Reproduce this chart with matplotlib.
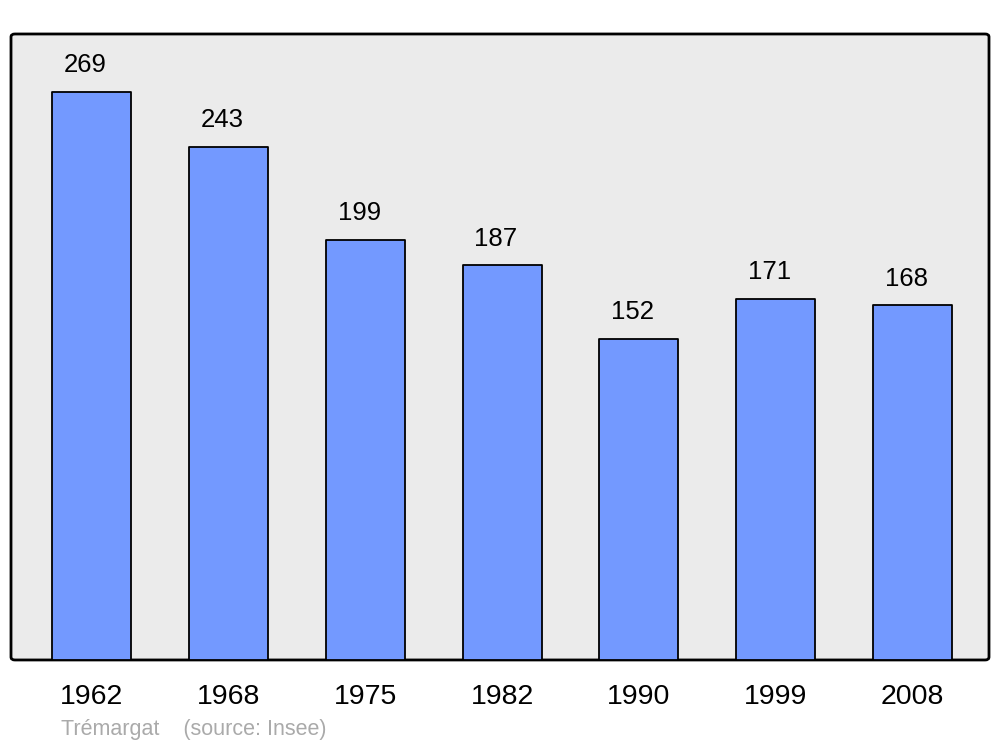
import matplotlib
matplotlib.use("Agg")
import matplotlib.pyplot as plt
from matplotlib.patches import FancyBboxPatch

years = ["1962", "1968", "1975", "1982", "1990", "1999", "2008"]
population = [269, 243, 199, 187, 152, 171, 168]
caption = "Trémargat    (source: Insee)"

BG = "#EBEBEB"
BAR = "#7399FF"

plt.rcParams["font.family"] = ["Liberation Sans", "DejaVu Sans"]

fig = plt.figure(figsize=(10, 7.47), dpi=100)
ax = fig.add_axes([0.011, 0.1165, 0.978, 0.838])
ax.set_facecolor("none")
for s in ax.spines.values():
    s.set_visible(False)

# rounded frame behind everything
frame = FancyBboxPatch((0, 0), 1, 1, boxstyle="round,pad=0,rounding_size=0.004",
                       transform=ax.transAxes, facecolor=BG, edgecolor="black",
                       linewidth=2, zorder=0, clip_on=False, mutation_aspect=1.17)
ax.add_patch(frame)

x = range(len(years))
bars = ax.bar(x, population, width=0.577, color=BAR, edgecolor="black",
              linewidth=1.3, zorder=2)
for b in bars:
    b.set_joinstyle("round")

for i, v in enumerate(population):
    ax.text(i - 0.045, v + 7, str(v), ha="center", va="bottom", fontsize=18.5, zorder=3)

ax.set_xlim(-0.59, 6.56)
ax.set_ylim(0, 296.6)
ax.set_yticks([])
ax.set_xticks(list(x))
ax.set_xticklabels(years, fontsize=20.5)
ax.tick_params(axis="x", length=0, pad=17)

fig.text(0.061, 0.0228, caption, fontsize=15.5, color="#AAAAAA", ha="left", va="center")

fig.savefig("out.png", dpi=100)
